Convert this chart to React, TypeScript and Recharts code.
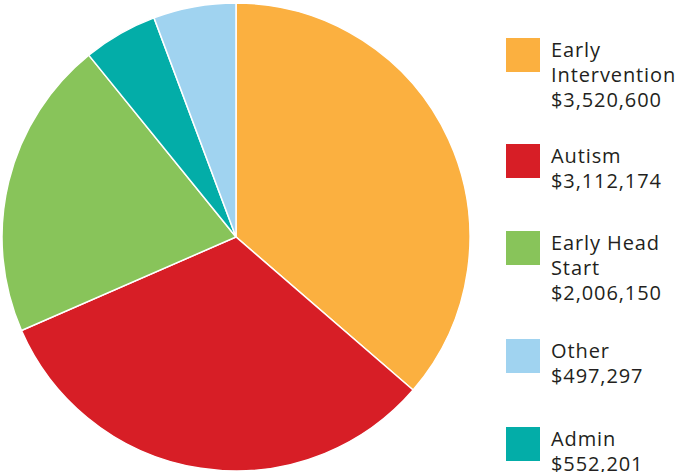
import React from "react";
import { PieChart, Pie, Cell, Legend } from "recharts";

// Slices as drawn clockwise from 12 o'clock
const sliceNames = ["Early Intervention", "Autism", "Early Head Start", "Other", "Admin"];
const sliceValues = [3520600, 3112174, 2006150, 497297, 552201];
const sliceColors = ["#FBB040", "#D71E26", "#88C45A", "#03ADA8", "#A0D3F0"];

// Legend as printed
const legendOrder = ["Early Intervention", "Autism", "Early Head Start", "Other", "Admin"];
const legendColors = ["#FBB040", "#D71E26", "#88C45A", "#A0D3F0", "#03ADA8"];
const legendLines: string[][] = [
  ["Early", "Intervention", "$3,520,600"],
  ["Autism", "$3,112,174"],
  ["Early Head", "Start", "$2,006,150"],
  ["Other", "$497,297"],
  ["Admin", "$552,201"],
];

const data = sliceNames.map((n, i) => ({ name: n, value: sliceValues[i] }));

const legendTops = [38, 144, 231, 339, 427];

const renderLegend = () => {
  return (
    <div style={{ position: "relative", width: 686, height: 472 }}>
      {legendOrder.map((name, i) => (
        <div key={name} style={{ position: "absolute", left: 506, top: legendTops[i] }}>
          <div style={{ position: "absolute", left: 0, top: 0, width: 34, height: 34, background: legendColors[i] }} />
          <div
            style={{
              position: "absolute",
              left: 45,
              top: -1,
              fontFamily: "'Open Sans', sans-serif",
              fontSize: 20,
              letterSpacing: 0.9,
              lineHeight: "25px",
              color: "#231F20",
              whiteSpace: "nowrap",
              textAlign: "left",
            }}
          >
            {legendLines[i].map((l) => (
              <div key={l}>{l}</div>
            ))}
          </div>
        </div>
      ))}
    </div>
  );
};

export default function App() {
  return (
    <div style={{ position: "absolute", left: 0, top: 0, background: "#fff" }}>
      <PieChart width={686} height={472} margin={{ top: 0, right: 0, bottom: 0, left: 0 }}>
        <Pie
          data={data}
          dataKey="value"
          nameKey="name"
          cx={236}
          cy={237}
          outerRadius={234}
          startAngle={90}
          endAngle={-270}
          stroke="#ffffff"
          strokeWidth={1.5}
          isAnimationActive={false}
        >
          {data.map((d, i) => (
            <Cell key={d.name} fill={sliceColors[i]} />
          ))}
        </Pie>
        <Legend content={renderLegend} wrapperStyle={{ left: 0, top: 0, width: 686, height: 472 }} />
      </PieChart>
    </div>
  );
}
